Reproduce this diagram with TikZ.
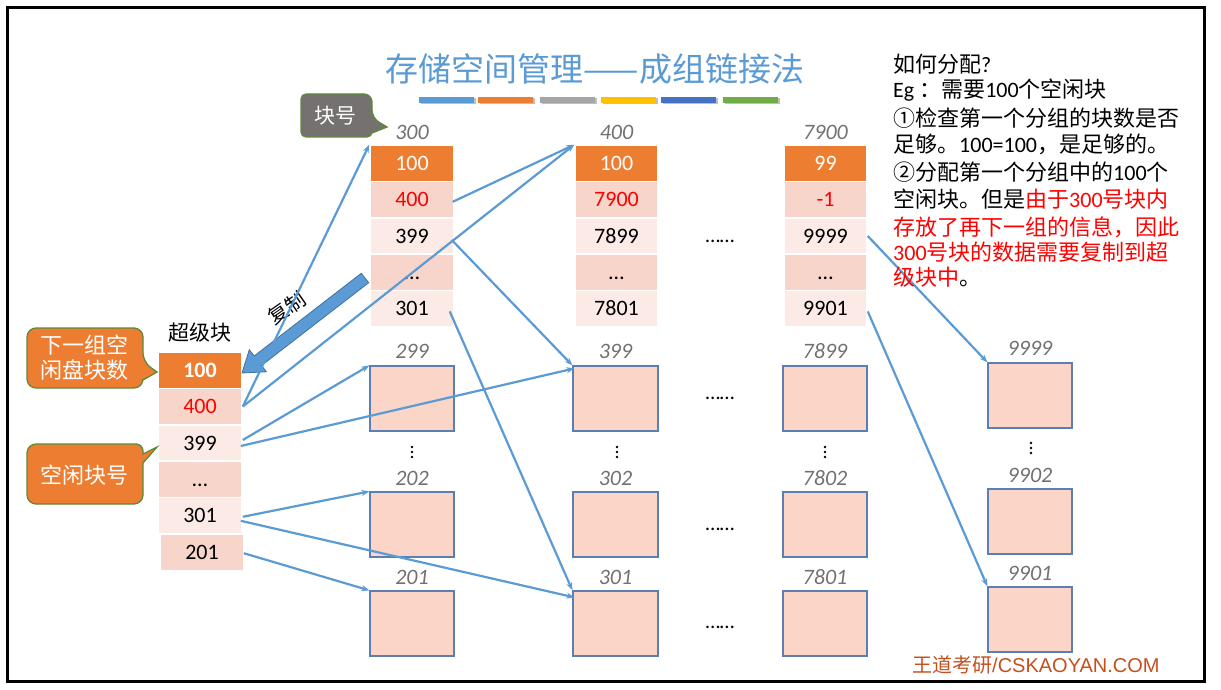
\documentclass[tikz,border=0pt]{standalone}
\usepackage{fontspec}
\setmainfont{Carlito}
\newfontfamily\cjk{Noto Sans CJK SC}
\newfontfamily\arialf{Liberation Sans}
\usetikzlibrary{arrows.meta,calc}
\definecolor{orng}{HTML}{ED7D31}
\definecolor{pkd}{HTML}{F8D5CA}
\definecolor{pkl}{HTML}{FBEAE6}
\definecolor{boxfill}{HTML}{FBD5C7}
\definecolor{boxline}{HTML}{5A7FB0}
\definecolor{arrblue}{HTML}{5B9BD5}
\definecolor{arrdark}{HTML}{41719C}
\definecolor{labgray}{HTML}{757070}
\definecolor{calloutgray}{HTML}{767171}
\definecolor{calloutline}{HTML}{5E8A3A}
\definecolor{footc}{HTML}{C5501E}
\definecolor{barA}{HTML}{5B9BD5}
\definecolor{barB}{HTML}{ED7D31}
\definecolor{barC}{HTML}{A5A5A5}
\definecolor{barD}{HTML}{FFC000}
\definecolor{barE}{HTML}{4472C4}
\definecolor{barF}{HTML}{70AD47}
\begin{document}
\begin{tikzpicture}[x=1pt,y=-1pt,
  cell/.style={rectangle, draw=white, line width=1.5pt, minimum width=84pt, minimum height=36.2pt,
    inner sep=0pt, font=\fontsize{22}{26}\selectfont, text height=14pt, text depth=0pt},
  pbox/.style={rectangle, draw=boxline, fill=boxfill, line width=1.2pt, minimum width=84pt,
    minimum height=65pt, inner sep=0pt},
  lab/.style={font=\fontsize{22}{26}\selectfont\itshape, text=labgray, inner sep=0pt},
  conn/.style={draw=arrblue, line width=2.2pt, -{Stealth[length=8pt,width=6pt]}},
  callout/.style={fill=orng, draw=calloutline, line width=1.3pt},
  ctext/.style={text=white, font=\cjk\fontsize{22}{25}\selectfont, align=center, inner sep=0pt},
  rt/.style={anchor=base west, inner sep=0pt, font=\fontsize{22}{26}\selectfont},
  hdots/.style={anchor=base, inner sep=0pt, font=\fontsize{21}{24}\selectfont}
]
\useasboundingbox (0,0) rectangle (1221,690);
\fill[white] (0,0) rectangle (1221,690);
\draw[line width=3pt] (7,8) rectangle (1204,681);

% title
\node[text=arrblue, font=\cjk\fontsize{33}{38}\selectfont] (title) at (595,69) {存储空间管理——成组链接法};
\foreach \xx/\cc in {419/barA,478/barB,540/barC,601/barD,661/barE,723/barF}{
  \fill[black!25] (\xx+1.5,98.5) rectangle +(55,6);
  \fill[\cc] (\xx,97) rectangle +(55,6);
}

% column 300
\node[lab] (h1) at (412,132) {300};
\node[cell,fill=orng,text=white] (a1) at (412,163.6) {100};
\node[cell,fill=pkd,text=red] (a2) at (412,199.8) {400};
\node[cell,fill=pkl] (a3) at (412,236) {399};
\node[cell,fill=pkd] (a4) at (412,272.2) {…};
\node[cell,fill=pkl] (a5) at (412,308.4) {301};

% column 400
\node[lab] (h2) at (616.5,132) {400};
\node[cell,fill=orng,text=white,minimum width=83pt] (b1) at (616.5,163.6) {100};
\node[cell,fill=pkd,text=red,minimum width=83pt] (b2) at (616.5,199.8) {7900};
\node[cell,fill=pkl,minimum width=83pt] (b3) at (616.5,236) {7899};
\node[cell,fill=pkd,minimum width=83pt] (b4) at (616.5,272.2) {…};
\node[cell,fill=pkl,minimum width=83pt] (b5) at (616.5,308.4) {7801};

% column 7900
\node[lab] (h3) at (825.5,132) {7900};
\node[cell,fill=orng,text=white,minimum width=83pt] (c1) at (825.5,163.6) {99};
\node[cell,fill=pkd,text=red,minimum width=83pt] (c2) at (825.5,199.8) {-1};
\node[cell,fill=pkl,minimum width=83pt] (c3) at (825.5,236) {9999};
\node[cell,fill=pkd,minimum width=83pt] (c4) at (825.5,272.2) {…};
\node[cell,fill=pkl,minimum width=83pt] (c5) at (825.5,308.4) {9901};

\node[hdots] (d0) at (720,242) {……};

% superblock
\node[font=\cjk\fontsize{21}{24}\selectfont, inner sep=0pt] (sbl) at (200,333) {超级块};
\node[cell,fill=orng,text=white,font=\fontsize{22}{26}\selectfont\bfseries] (s1) at (200,370.2) {100};
\node[cell,fill=pkd,text=red] (s2) at (200,406.6) {400};
\node[cell,fill=pkl] (s3) at (200,443.0) {399};
\node[cell,fill=pkd] (s4) at (200,479.4) {…};
\node[cell,fill=pkl] (s5) at (200,515.8) {301};
\node[cell,fill=pkd] (s6) at (202,552.2) {201};

% free blocks
\node[lab] (l11) at (412,351) {299};
\node[pbox] (pa1) at (412,398.5) {};
\node[lab] (l12) at (412,478) {202};
\node[pbox] (pa2) at (412,524.5) {};
\node[lab] (l13) at (412,577) {201};
\node[pbox] (pa3) at (412,623.5) {};

\node[lab] (l21) at (615.5,351) {399};
\node[pbox,minimum width=85pt] (pb1) at (615.5,398.5) {};
\node[lab] (l22) at (615.5,478) {302};
\node[pbox,minimum width=85pt] (pb2) at (615.5,524.5) {};
\node[lab] (l23) at (615.5,577) {301};
\node[pbox,minimum width=85pt] (pb3) at (615.5,623.5) {};

\node[lab] (l31) at (825,351) {7899};
\node[pbox] (pc1) at (825,398.5) {};
\node[lab] (l32) at (825,478) {7802};
\node[pbox] (pc2) at (825,524.5) {};
\node[lab] (l33) at (825,577) {7801};
\node[pbox] (pc3) at (825,623.5) {};

\node[lab] (l41) at (1030,348) {9999};
\node[pbox] (pd1) at (1030,395.5) {};
\node[lab] (l42) at (1030,475) {9902};
\node[pbox] (pd2) at (1030,521.5) {};
\node[lab] (l43) at (1030,573) {9901};
\node[pbox] (pd3) at (1030,619.5) {};

% vertical dots
\foreach \xx/\yy in {412/452,617/452,825/452,1031/448}{
  \foreach \k in {-5,0,5} \fill (\xx,\yy+\k) circle (1.3pt);
}
\node[hdots] (d1) at (720,399) {……};
\node[hdots] (d2) at (720,530) {……};
\node[hdots] (d3) at (720,628) {……};

% copy block arrow
\filldraw[fill=arrblue, draw=arrdark, line width=0.8pt]
  (361.3,273.3) -- (368.7,282.7) -- (261.5,365.5) -- (266.4,371.8) -- (242,373)
  -- (249.3,349.7) -- (254.2,356.0) -- cycle;
\node[font=\cjk\fontsize{20}{24}\selectfont, rotate=35, inner sep=0pt] (copy) at (287,308) {复制};

% connectors
\draw[conn] (s2.east) -- (a1.north west);
\draw[conn] (s2.east) -- (b1.north west);
\draw[conn] ($(a2.east)+(-2,2)$) -- (b1.north west);
\draw[conn] ($(a3.east)+(-3,4)$) -- (pb1.north west);
\draw[conn] ($(a5.east)+(-5,3)$) -- (pb3.north west);
\draw[conn] ($(s3.east)+(0,-3)$) -- (pa1.north west);
\draw[conn] ($(s3.east)+(-2,3)$) -- ($(pb1.north west)+(2,3)$);
\draw[conn] ($(s5.east)+(0,1)$) -- (pa2.north west);
\draw[conn] ($(s5.east)+(-2,5)$) -- ($(pb3.north west)+(2,7)$);
\draw[conn] ($(s6.east)+(-1,1)$) -- (pa3.north west);
\draw[conn] ($(c3.east)+(0,0)$) -- (pd1.north west);
\draw[conn] ($(c5.east)+(0,3)$) -- (pd3.north west);

% callouts
\draw[callout, rounded corners=9pt]
  (85,328) -- (143,328) -- (143,362) [sharp corners] -- (157,372) -- (143,380)
  [rounded corners=9pt] -- (143,388) -- (27,388) -- (27,328) -- cycle;
\node[ctext] (co1) at (84,357.5) {下一组空\\闲盘块数};
\draw[callout, rounded corners=7pt]
  (85,444) -- (143,444) [sharp corners] -- (143,454) -- (157,447) -- (143,463)
  [rounded corners=9pt] -- (143,504) -- (27,504) -- (27,444) -- cycle;
\node[ctext] (co2) at (84,475) {空闲块号};
\draw[fill=calloutgray, draw=calloutline, line width=1.3pt, rounded corners=8pt]
  (336,94) -- (372,94) -- (372,118) [sharp corners] -- (387,127) -- (372,133)
  [rounded corners=5pt] -- (372,137) -- (301,137) -- (301,94) -- cycle;
\node[ctext, font=\cjk\fontsize{21}{24}\selectfont] (co3) at (335,116) {块号};

% right text
\node[rt] (t1) at (893,73) {{\cjk 如何分配}?};
\node[rt] (t2) at (893,98) {Eg {\cjk ：}{\cjk 需要}100{\cjk 个空闲块}};
\node[rt] (t3) at (893,127) {{\cjk ①检查第一个分组的块数是否}};
\node[rt] (t4) at (893,153) {{\cjk 足够。}100=100{\cjk ，是足够的。}};
\node[rt] (t5) at (893,180) {{\cjk ②分配第一个分组中的}100{\cjk 个}};
\node[rt] (t6) at (893,207) {{\cjk 空闲块。但是}\textcolor{red}{{\cjk 由于}300{\cjk 号块内}}};
\node[rt] (t7) at (893,235) {\textcolor{red}{{\cjk 存放了再下一组的信息，因此}}};
\node[rt] (t8) at (893,260) {\textcolor{red}{300{\cjk 号块的数据需要复制到超}}};
\node[rt] (t9) at (893,285) {{\cjk \textcolor{red}{级块中}。}};

% footer
\node[anchor=west, inner sep=0pt, text=footc, font=\fontsize{20}{24}\selectfont] (ft) at (912,665) {{\cjk 王道考研}{\arialf /CSKAOYAN.COM}};
\end{tikzpicture}
\end{document}
